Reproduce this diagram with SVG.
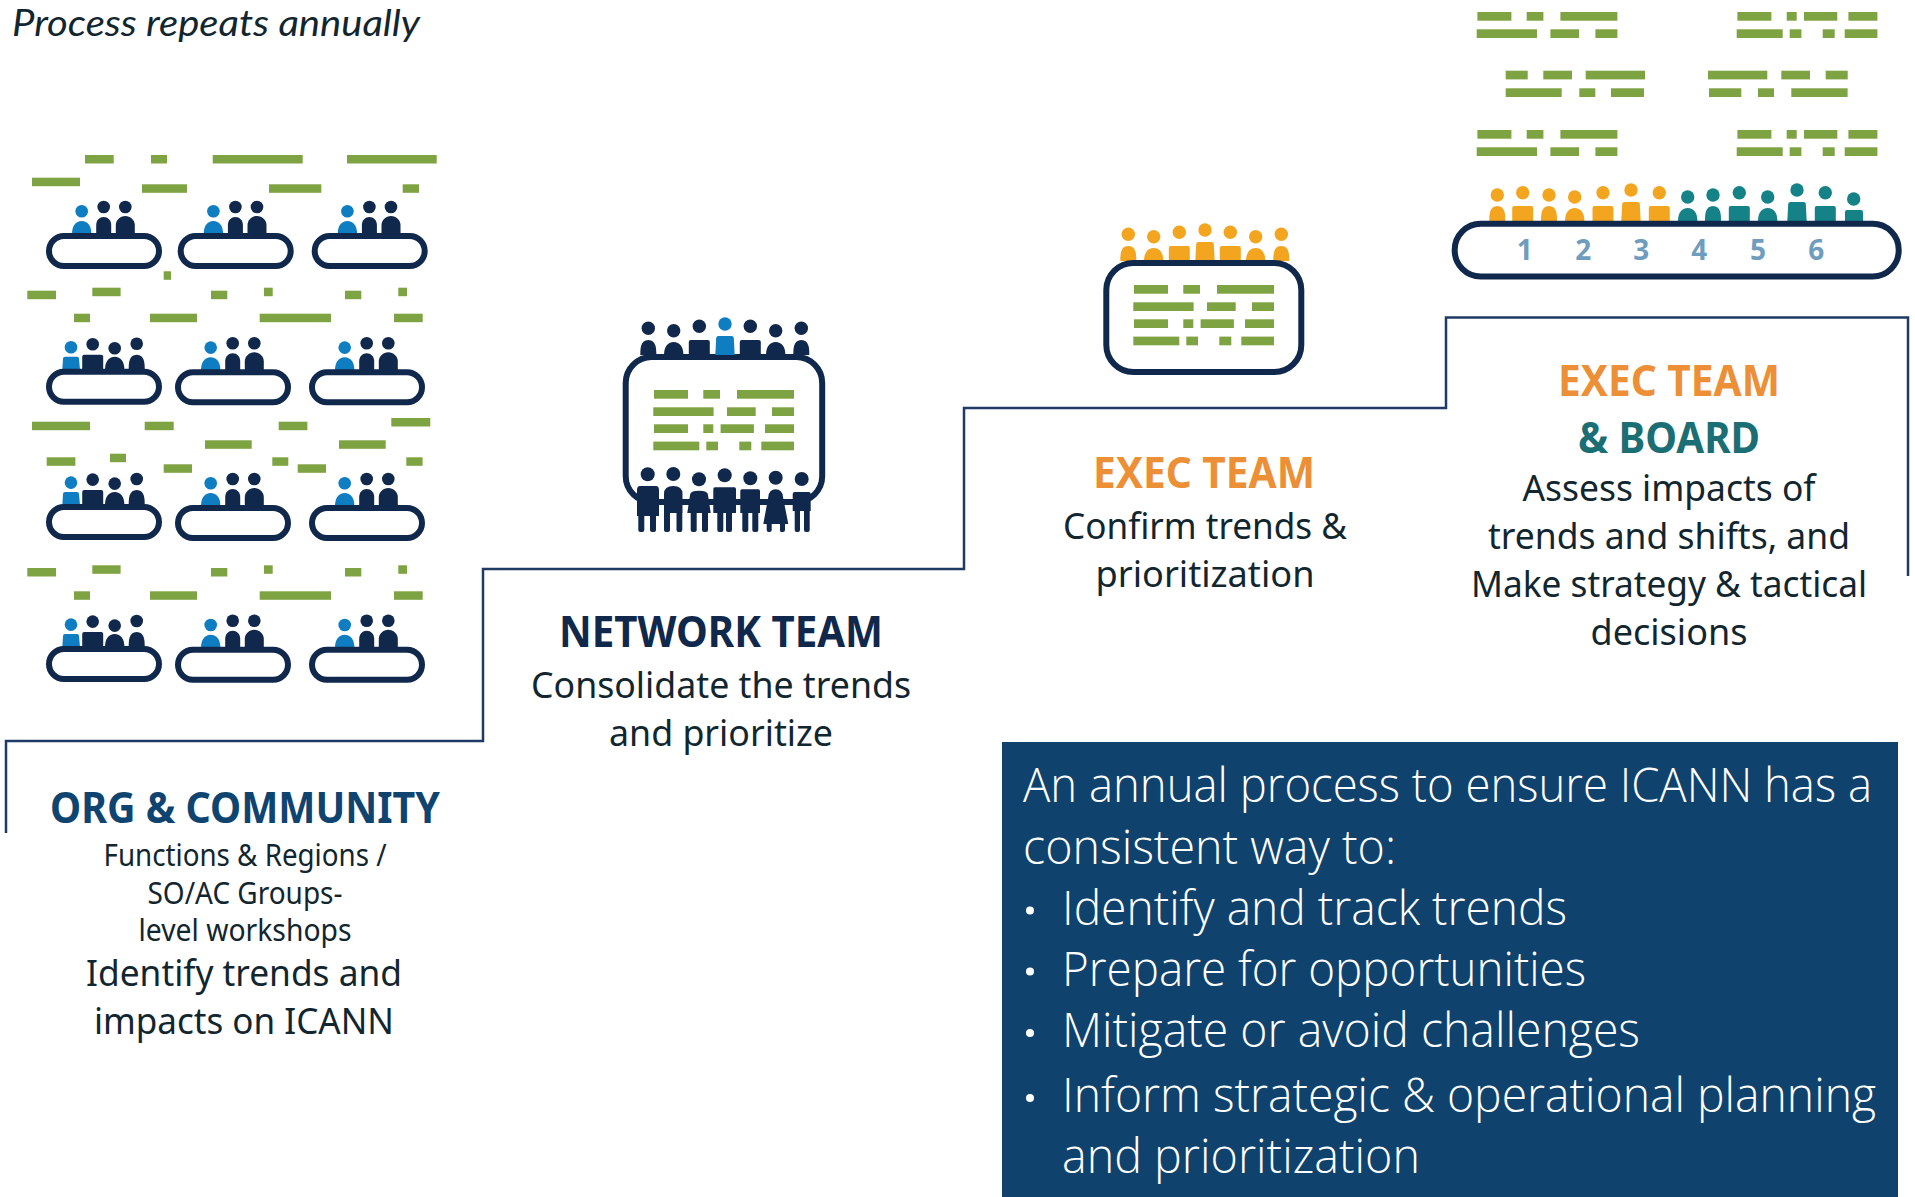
<svg xmlns="http://www.w3.org/2000/svg" width="1915" height="1197" viewBox="0 0 1915 1197">
<style>
text{font-family:"Noto Sans","Open Sans","Liberation Sans",sans-serif;text-anchor:middle}
.bar{fill:#7ea342}
.navy{fill:#10284c}
.blue{fill:#0f7dc2}
.orange{fill:#f4a51f}
.teal{fill:#158287}
.pill{fill:#fff;stroke:#10284c;stroke-width:6}
.step{fill:none;stroke:#1f3a63;stroke-width:2.5}
.hd{font-weight:700;font-size:43px}
.body{fill:#12262f;font-size:37px}
.small{fill:#12262f;font-size:30px}
.num{fill:#6f9dbd;font-weight:700;font-size:28px}
.light{fill:#fff;font-family:"Open Sans","Noto Sans",sans-serif;font-weight:300;font-size:47px;text-anchor:start}
.note{font-family:Lato,"Noto Sans",sans-serif;font-style:italic;fill:#12262f;font-size:36px}
</style>
<defs>
<path id="bN" d="M-8 0C-8-6-8-15 0-15C8-15 8-6 8 0Z"/>
<path id="bW" d="M-9.700 0C-9.700-8-6-13 0-13C6-13 9.700-8 9.700 0Z"/>
<path id="bS" d="M-10.500 0V-13Q-10.500-15-8.500-15H8.500Q10.500-15 10.500-13V0Z"/>
<path id="bT" d="M-9.700 0L-8.800-17Q-8.600-19-6.500-19H6.500Q8.600-19 8.800-17L9.700 0Z"/>
<path id="bR" d="M-9 0V-9Q-9-11-7-11H7Q9-11 9-9V0Z"/>
<path id="bH" d="M-7.500 0L-7.500-10C-7.500-15-4-18 0-18C4-18 7.500-15 7.500-10L7.500 0Z"/>
<path id="bG" d="M-9.500 0V-10C-9.500-15-5-19 0-19C5-19 9.500-15 9.500-10V0Z"/>
<g id="r1"><rect x=".7" y="0" width="34" height="8.700"/><rect x="50" y="0" width="16.700" height="8.700"/><rect x="83.700" y="0" width="57" height="8.700"/></g>
<g id="r2"><rect x="0" y="17.300" width="60.300" height="8.700"/><rect x="73.700" y="17.300" width="28.700" height="8.700"/><rect x="118.700" y="17.300" width="22" height="8.700"/></g>
<g id="r3"><rect x=".7" y="0" width="34" height="8.700"/><rect x="50" y="0" width="10" height="8.700"/><rect x="67.300" y="0" width="33.300" height="8.700"/><rect x="111.700" y="0" width="29" height="8.700"/></g>
<g id="r4"><rect x="0" y="17.300" width="46" height="8.700"/><rect x="53" y="17.300" width="11.700" height="8.700"/><rect x="86" y="17.300" width="12" height="8.700"/><rect x="108" y="17.300" width="32.700" height="8.700"/></g>
<g id="doc" class="bar"><use href="#r1"/><use href="#r2"/><use href="#r3" y="34.300"/><use href="#r4" y="34.300"/></g>
<g id="trio">
<g class="blue"><circle cx="35.700" cy="-21.700" r="6.300"/><use href="#bW" x="35.700" y="1"/></g>
<g class="navy"><circle cx="57.700" cy="-26" r="6.300"/><use href="#bH" x="57.700" y="2"/><circle cx="79.300" cy="-26" r="6.300"/><use href="#bG" x="79.300" y="2"/></g>
<rect class="pill" x="3" y="3" width="110" height="30" rx="15"/>
</g>
<g id="quad">
<g class="blue"><circle cx="25" cy="-21.400" r="6.300"/><path d="M16.300 1L17-10Q17-12 19-12H31Q33-12 33-10L34 1Z"/></g>
<g class="navy"><circle cx="46.700" cy="-24.400" r="6.300"/><use href="#bS" x="46.700" y="1"/><circle cx="68.700" cy="-20.400" r="6.300"/><use href="#bW" x="68.700" y="1"/><circle cx="90.700" cy="-25" r="6.300"/><use href="#bN" x="90.700" y="1"/></g>
<rect class="pill" x="3" y="3" width="110" height="30" rx="15"/>
</g>
<g id="side">
<circle cx="648.300" cy="328.300" r="6.700"/><use href="#bN" x="648.300" y="355"/>
<circle cx="673.700" cy="330.700" r="6.700"/><use href="#bW" x="673.700" y="355"/>
<circle cx="699.300" cy="326.300" r="6.700"/><use href="#bS" x="699.300" y="355"/>
<circle cx="750.300" cy="326.300" r="6.700"/><use href="#bS" x="750.300" y="355"/>
<circle cx="775.700" cy="330.700" r="6.700"/><use href="#bW" x="775.700" y="355"/>
<circle cx="801.300" cy="328.300" r="6.700"/><use href="#bN" x="801.300" y="355"/>
</g>
<g id="mid"><circle cx="725" cy="324" r="6.700"/><use href="#bT" x="725" y="355"/></g>
</defs>
<rect width="1915" height="1197" fill="#fff"/>
<g id="connectors">
<path class="step" d="M6 833V741H483V569H964V408H1446V317.500H1908V576"/>
</g>
<text id="note" class="note" x="216" y="36" textLength="408" lengthAdjust="spacingAndGlyphs">Process repeats annually</text>
<g id="org-icon">
<g class="bar">
<rect x="85" y="155" width="28.700" height="8.500"/><rect x="151" y="155" width="16" height="8.500"/><rect x="212.700" y="155" width="90" height="8.500"/><rect x="347" y="155" width="89.700" height="8.500"/>
<rect x="32" y="177.700" width="48" height="8.500"/><rect x="142" y="184.300" width="45" height="8.500"/><rect x="269" y="184.300" width="52.300" height="8.500"/><rect x="402.700" y="184.300" width="16.300" height="8.500"/>
<rect x="163.700" y="271.300" width="7.300" height="8.500"/><rect x="27.300" y="290.700" width="28.700" height="8.500"/><rect x="92.300" y="287.700" width="28.300" height="8.500"/><rect x="211" y="290.700" width="16.300" height="8.500"/><rect x="264" y="287.700" width="8.700" height="8.500"/><rect x="345" y="290.700" width="16.300" height="8.500"/><rect x="398.300" y="287.700" width="8.700" height="8.500"/>
<rect x="74" y="313.700" width="16" height="8.500"/><rect x="150" y="313.700" width="47" height="8.500"/><rect x="259.700" y="313.700" width="71.300" height="8.500"/><rect x="394" y="313.700" width="28.700" height="8.500"/>
<rect x="32" y="421.700" width="58" height="8.500"/><rect x="144.700" y="421.700" width="29" height="8.500"/><rect x="278.700" y="421.700" width="28.700" height="8.500"/><rect x="391.300" y="418" width="39" height="8.500"/>
<rect x="205" y="440.300" width="46.700" height="8.500"/><rect x="339" y="440.300" width="46.700" height="8.500"/><rect x="46.700" y="457.300" width="28.700" height="8.500"/><rect x="110" y="453.700" width="16" height="8.500"/><rect x="272.300" y="457.300" width="16" height="8.500"/><rect x="163.700" y="464.300" width="28.300" height="8.500"/><rect x="297.700" y="464.300" width="28.300" height="8.500"/><rect x="406.300" y="457.300" width="16.300" height="8.500"/>
<rect x="27.300" y="568" width="28.700" height="8.500"/><rect x="92.300" y="565.300" width="28.300" height="8.500"/><rect x="211" y="568" width="16.300" height="8.500"/><rect x="264" y="565.300" width="8.700" height="8.500"/><rect x="345" y="568" width="16.300" height="8.500"/><rect x="398.300" y="565.300" width="8.700" height="8.500"/>
<rect x="74" y="591.300" width="16" height="8.500"/><rect x="150" y="591.300" width="47" height="8.500"/><rect x="259.700" y="591.300" width="71.300" height="8.500"/><rect x="394" y="591.300" width="28.700" height="8.500"/>
</g>
<use href="#trio" x="46" y="233"/><use href="#trio" x="177.700" y="233"/><use href="#trio" x="311.700" y="233"/>
<use href="#quad" x="46" y="368.700"/><use href="#trio" x="175" y="369.300"/><use href="#trio" x="309" y="369.300"/>
<use href="#quad" x="46" y="504"/><use href="#trio" x="175" y="505"/><use href="#trio" x="309" y="505"/>
<use href="#quad" x="46" y="646"/><use href="#trio" x="175" y="646.700"/><use href="#trio" x="309" y="646.700"/>
</g>
<g id="org-label">
<text class="hd" x="245" y="823" fill="#0f4470" textLength="390" lengthAdjust="spacingAndGlyphs">ORG &amp; COMMUNITY</text>
<text class="small" x="245" y="866" textLength="283" lengthAdjust="spacingAndGlyphs">Functions &amp; Regions /</text>
<text class="small" x="245" y="904" textLength="195" lengthAdjust="spacingAndGlyphs">SO/AC Groups-</text>
<text class="small" x="245" y="941" textLength="213" lengthAdjust="spacingAndGlyphs">level workshops</text>
<text class="body" x="244" y="986" textLength="316" lengthAdjust="spacingAndGlyphs">Identify trends and</text>
<text class="body" x="244" y="1034" textLength="300" lengthAdjust="spacingAndGlyphs">impacts on ICANN</text>
</g>
<g id="network-icon">
<rect x="625.700" y="357" width="196.500" height="145" rx="26" fill="#fff" stroke="#10284c" stroke-width="6"/>
<use href="#side" class="navy"/>
<use href="#mid" class="blue"/>
<use href="#doc" x="653.300" y="390"/>
<g class="navy">
<circle cx="647.700" cy="474.300" r="7"/><path d="M640 486H656Q659 486 659 490V516H656V530Q656 532 654 532H652Q650 532 650 530V516H644.300V530Q644.300 532 642.300 532H640.300Q638.300 532 638.300 530V516H637V490Q637 486 640 486Z"/>
<circle cx="673.300" cy="474" r="7"/><path d="M664 513V494Q664 486 673.300 486Q682.500 486 682.500 494V513H682.300V530Q682.300 532 680.300 532H678.500Q676.500 532 676.500 530V513H670V530Q670 532 668 532H666Q664 532 664 530Z"/>
<circle cx="699" cy="479.300" r="7"/><path d="M690 495Q690 490.700 699 490.700Q708 490.700 708 495L710.700 513H708V530Q708 532 706 532H704Q702 532 702 530V513H696.700V530Q696.700 532 694.700 532H692.700Q690.700 532 690.700 530V513H687.300Z"/>
<circle cx="724.700" cy="475.300" r="7"/><path d="M713.300 489Q713.300 487.300 715 487.300H734.300Q736 487.300 736 489V513H732V530Q732 532 730 532H728Q726 532 726 530V513H723.300V530Q723.300 532 721.300 532H719.300Q717.300 532 717.300 530V513H713.300Z"/>
<circle cx="750.300" cy="478.300" r="7"/><path d="M740.300 491Q740.300 489.300 742 489.300H758.300Q760 489.300 760 491V513H758.300V530Q758.300 532 756.300 532H754.300Q752.300 532 752.300 530V513H748.300V530Q748.300 532 746.300 532H744.300Q742.300 532 742.300 530V513H740.300Z"/>
<circle cx="775.700" cy="477.700" r="7"/><path d="M775.700 489.300Q782.300 489.300 783 497L788.300 524H785V530Q785 532 783 532H781Q780 532 780 530V524H771.700V530Q771.700 532 769.700 532H768.700Q766.700 532 766.700 530V524H763.300L768.300 497Q769 489.300 775.700 489.300Z"/>
<circle cx="801.700" cy="479" r="7"/><path d="M794.700 492H808.700Q810.700 492 810.700 494V511H809.700V530Q809.700 532 807.700 532H806Q804 532 804 530V511H800V530Q800 532 798 532H796.700Q794.700 532 794.700 530V511H792.700V494Q792.700 492 794.700 492Z"/>
</g>
</g>
<g id="network-label">
<text class="hd" x="721" y="647" fill="#10284c" textLength="324" lengthAdjust="spacingAndGlyphs">NETWORK TEAM</text>
<text class="body" x="721" y="698" textLength="380" lengthAdjust="spacingAndGlyphs">Consolidate the trends</text>
<text class="body" x="721" y="746" textLength="224" lengthAdjust="spacingAndGlyphs">and prioritize</text>
</g>
<g id="exec-icon">
<g transform="translate(480 -94)"><use href="#side" class="orange"/><use href="#mid" class="orange"/></g>
<rect x="1106.300" y="263" width="195" height="109" rx="27" fill="#fff" stroke="#10284c" stroke-width="6"/>
<use href="#doc" x="1133.300" y="285"/>
</g>
<g id="exec-label">
<text class="hd" x="1204" y="488" fill="#ec8f36" textLength="222" lengthAdjust="spacingAndGlyphs">EXEC TEAM</text>
<text class="body" x="1205" y="539" textLength="284" lengthAdjust="spacingAndGlyphs">Confirm trends &amp;</text>
<text class="body" x="1205" y="587" textLength="219" lengthAdjust="spacingAndGlyphs">prioritization</text>
</g>
<g id="board-icon">
<g class="bar">
<use href="#r1" x="1476.700" y="12"/><use href="#r2" x="1476.700" y="12"/>
<use href="#r3" x="1736.700" y="12"/><use href="#r4" x="1736.700" y="12"/>
<rect x="1505.700" y="70.700" width="22" height="8.700"/><rect x="1543.300" y="70.700" width="28.700" height="8.700"/><rect x="1585.700" y="70.700" width="59.300" height="8.700"/>
<rect x="1505.700" y="88.300" width="56" height="8.700"/><rect x="1579.300" y="88.300" width="16" height="8.700"/><rect x="1611" y="88.300" width="33" height="8.700"/>
<rect x="1708" y="70.700" width="59.300" height="8.700"/><rect x="1781.300" y="70.700" width="28.700" height="8.700"/><rect x="1825.700" y="70.700" width="22" height="8.700"/>
<rect x="1709" y="88.300" width="32.300" height="8.700"/><rect x="1758" y="88.300" width="16" height="8.700"/><rect x="1791.300" y="88.300" width="56.300" height="8.700"/>
<use href="#r1" x="1476.700" y="130"/><use href="#r2" x="1476.700" y="130"/>
<use href="#r3" x="1736.700" y="130"/><use href="#r4" x="1736.700" y="130"/>
</g>
<g class="orange">
<circle cx="1497.300" cy="195" r="6.700"/><use href="#bN" x="1497.300" y="221"/>
<circle cx="1522.700" cy="192.700" r="6.700"/><use href="#bS" x="1522.700" y="221"/>
<circle cx="1549" cy="195" r="6.700"/><use href="#bN" x="1549" y="221"/>
<circle cx="1574.700" cy="197" r="6.700"/><use href="#bW" x="1574.700" y="221"/>
<circle cx="1603" cy="192.700" r="6.700"/><use href="#bS" x="1603" y="221"/>
<circle cx="1631" cy="190" r="6.700"/><use href="#bT" x="1631" y="221"/>
<circle cx="1659.300" cy="192.700" r="6.700"/><use href="#bS" x="1659.300" y="221"/>
</g>
<g class="teal">
<circle cx="1687.700" cy="197" r="6.700"/><use href="#bW" x="1687.700" y="221"/>
<circle cx="1713" cy="195" r="6.700"/><use href="#bN" x="1713" y="221"/>
<circle cx="1739.300" cy="192.700" r="6.700"/><use href="#bS" x="1739.300" y="221"/>
<circle cx="1767.700" cy="197" r="6.700"/><use href="#bW" x="1767.700" y="221"/>
<circle cx="1797" cy="190" r="6.700"/><use href="#bT" x="1797" y="221"/>
<circle cx="1825.300" cy="192.700" r="6.700"/><use href="#bS" x="1825.300" y="221"/>
<circle cx="1853.700" cy="199" r="6.700"/><use href="#bR" x="1854" y="221"/>
</g>
<rect class="pill" x="1454.700" y="223.700" width="444" height="52.700" rx="26"/>
<text class="num" x="1524.700" y="260.300">1</text><text class="num" x="1583.300" y="260.300">2</text><text class="num" x="1641.300" y="260.300">3</text><text class="num" x="1699.300" y="260.300">4</text><text class="num" x="1758" y="260.300">5</text><text class="num" x="1816.300" y="260.300">6</text>
</g>
<g id="board-label">
<text class="hd" x="1669" y="396" fill="#ec8f36" textLength="222" lengthAdjust="spacingAndGlyphs">EXEC TEAM</text>
<text class="hd" x="1669" y="453" fill="#1c6e75" textLength="182" lengthAdjust="spacingAndGlyphs">&amp; BOARD</text>
<text class="body" x="1669" y="501" textLength="293" lengthAdjust="spacingAndGlyphs">Assess impacts of</text>
<text class="body" x="1669" y="549" textLength="362" lengthAdjust="spacingAndGlyphs">trends and shifts, and</text>
<text class="body" x="1669" y="597" textLength="396" lengthAdjust="spacingAndGlyphs">Make strategy &amp; tactical</text>
<text class="body" x="1669" y="645" textLength="157" lengthAdjust="spacingAndGlyphs">decisions</text>
</g>
<g id="purpose-panel">
<rect x="1002" y="742" width="896" height="455" fill="#0f426d"/>
<text class="light" x="1023" y="802" textLength="849" lengthAdjust="spacingAndGlyphs">An annual process to ensure ICANN has a</text>
<text class="light" x="1023" y="864" textLength="373" lengthAdjust="spacingAndGlyphs">consistent way to:</text>
<g fill="#fff"><circle cx="1030" cy="910.500" r="4"/><circle cx="1030" cy="971.500" r="4"/><circle cx="1030" cy="1033" r="4"/><circle cx="1030" cy="1098" r="4"/></g>
<text class="light" x="1062" y="925" textLength="505" lengthAdjust="spacingAndGlyphs">Identify and track trends</text>
<text class="light" x="1062" y="986" textLength="524" lengthAdjust="spacingAndGlyphs">Prepare for opportunities</text>
<text class="light" x="1062" y="1047" textLength="578" lengthAdjust="spacingAndGlyphs">Mitigate or avoid challenges</text>
<text class="light" x="1062" y="1112" textLength="814" lengthAdjust="spacingAndGlyphs">Inform strategic &amp; operational planning</text>
<text class="light" x="1062" y="1173" textLength="358" lengthAdjust="spacingAndGlyphs">and prioritization</text>
</g>
</svg>
